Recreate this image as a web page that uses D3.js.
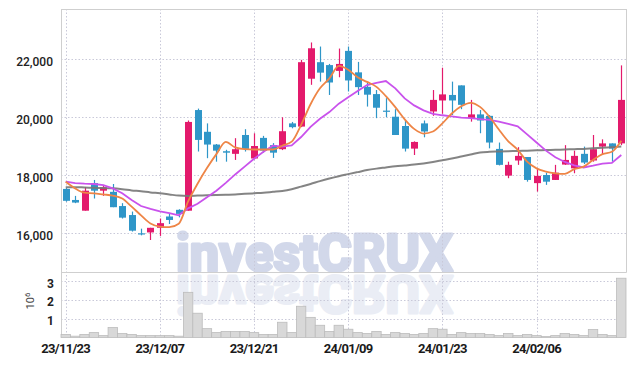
<!DOCTYPE html>
<html><head><meta charset="utf-8">
<script src="https://cdn.jsdelivr.net/npm/d3@7"></script>
<style>body{margin:0;background:#fff}svg{display:block}</style>
</head><body><svg id="c" width="634" height="366"></svg>
<script>
const dates=["23/11/23","23/11/24","23/11/27","23/11/28","23/11/29","23/11/30","23/12/01","23/12/04","23/12/05","23/12/06","23/12/07","23/12/08","23/12/11","23/12/12","23/12/13","23/12/14","23/12/15","23/12/18","23/12/19","23/12/20","23/12/21","23/12/22","23/12/26","23/12/27","23/12/28","24/01/02","24/01/03","24/01/04","24/01/05","24/01/08","24/01/09","24/01/10","24/01/11","24/01/12","24/01/15","24/01/16","24/01/17","24/01/18","24/01/19","24/01/22","24/01/23","24/01/24","24/01/25","24/01/26","24/01/29","24/01/30","24/01/31","24/02/01","24/02/02","24/02/05","24/02/06","24/02/07","24/02/08","24/02/13","24/02/14","24/02/15","24/02/16","24/02/19","24/02/20","24/02/21"];
const openV=[17530,17150,16780,17730,17470,17430,16940,16630,16000,16030,16190,16580,16810,16780,20250,19500,19060,18830,18740,19390,18580,19290,19040,18900,19790,19680,21330,21900,21800,21600,22290,21550,21050,20800,20230,20020,19700,18920,19790,20200,20580,20770,21100,19980,20100,20050,18910,17990,18510,18630,17730,18010,17840,18370,18240,18740,18510,18990,19100,19100];
const highV=[17560,17290,17590,17840,17660,17700,17040,16750,16160,16190,16510,16690,16830,19890,20300,19790,19080,18880,19280,19590,19450,19360,19110,20000,19840,21980,22580,22440,21840,22370,22440,21910,21200,20940,20660,20280,19890,19170,19890,20940,21710,21230,21100,20600,20250,20080,19130,18470,18970,18630,18240,18090,18360,19040,18850,18990,19390,19240,19100,21790];
const lowV=[17090,17040,16780,17200,17290,16900,16510,16060,15930,15770,15910,16320,16550,16780,18820,18590,18470,18470,18530,18820,18550,18780,18600,18870,19620,19660,21120,21230,20770,21380,20890,20770,20370,19970,20000,19390,18820,18700,19310,20050,20120,20080,20280,19850,19450,18930,18340,17900,18360,17780,17440,17670,17840,18360,18070,18390,18470,18700,18470,19040];
const closeV=[17120,17060,17470,17470,17590,16900,16540,16090,15980,16190,16350,16460,16670,19840,19220,19060,18850,18780,18900,18910,19010,18850,18780,19520,19660,21900,22380,21540,21200,21840,21270,21040,20780,20330,20210,19390,18920,19150,19510,20600,20790,20580,20430,20100,19890,19130,18360,18360,18670,17840,17980,17780,18090,18530,18670,18440,18900,19100,18920,20600];
const volumeV=[0.16,0.07,0.16,0.26,0.10,0.53,0.21,0.16,0.10,0.10,0.10,0.10,0.07,2.40,1.29,0.47,0.26,0.32,0.32,0.32,0.26,0.16,0.16,0.81,0.26,1.66,1.07,0.65,0.32,0.65,0.44,0.26,0.21,0.32,0.16,0.26,0.21,0.16,0.21,0.47,0.44,0.16,0.26,0.21,0.21,0.16,0.10,0.21,0.10,0.16,0.10,0.05,0.10,0.21,0.16,0.10,0.42,0.16,0.10,3.15];
const ma5V=[17780,17550,17400,17380,17340,17300,17200,16920,16620,16340,16230,16210,16330,17100,17710,18250,18730,19150,18960,18900,18890,18890,18890,19020,19160,19740,20450,21000,21340,21770,21640,21380,21220,21050,20730,20350,19930,19600,19440,19510,19790,20130,20380,20500,20360,20020,19580,19170,18880,18470,18240,18130,18070,18050,18210,18300,18530,18730,18810,19190];
const ma10V=[17780,17730,17710,17700,17660,17550,17380,17150,16940,16840,16760,16700,16620,16860,17020,17240,17470,17740,18030,18300,18570,18810,19020,18990,19030,19320,19670,19950,20180,20470,20690,20910,21110,21190,21250,21000,20650,20410,20240,20120,20070,20030,19990,19970,19940,19910,19850,19770,19690,19410,19130,18850,18620,18460,18340,18270,18330,18400,18430,18700];
const ma60V=[17590,17590,17580,17570,17560,17550,17520,17480,17450,17410,17380,17340,17300,17290,17300,17310,17320,17330,17340,17360,17380,17400,17430,17460,17520,17610,17700,17800,17890,17970,18040,18110,18180,18230,18270,18310,18340,18370,18410,18460,18520,18580,18650,18720,18790,18810,18820,18830,18840,18850,18860,18870,18880,18890,18900,18910,18930,18950,18970,18990];
const priceTicks=[16000,18000,20000,22000];
const volTicks=[1,2,3];
const dateTicks=["23/11/23","23/12/07","23/12/21","24/01/09","24/01/23","24/02/06"];

const L=61,R=626,T=9,MB=272,VB=337.5;
const UP="#e31a6c",DOWN="#2f96c8";
const svg=d3.select("#c");
const x=d3.scaleBand().domain(dates).range([L,R]).padding(0);
const cx=d=>x(d)+x.bandwidth()/2;
const y=d3.scaleLinear().domain([14666,23734]).range([MB,T]);
const yv=d3.scaleLinear().domain([0,3.48]).range([VB,MB]);

const defs=svg.append("defs");
defs.append("clipPath").attr("id","cm").append("rect").attr("x",L).attr("y",T).attr("width",R-L).attr("height",MB-T);
defs.append("clipPath").attr("id","cv").append("rect").attr("x",L).attr("y",MB+1).attr("width",R-L).attr("height",VB-MB);

// watermark (with mirrored reflection via <use>)
svg.append("g").attr("clip-path","url(#cm)")
  .append("text").attr("id","wm").attr("x",176).attr("y",270.5).attr("font-family","Roboto").attr("font-weight",700)
  .attr("font-size",52).attr("textLength",277).attr("lengthAdjust","spacingAndGlyphs")
  .attr("fill","#d2d8ea").attr("stroke","#d2d8ea").attr("stroke-width",3.2).attr("stroke-linejoin","round")
  .text("investCRUX");
svg.append("g").attr("clip-path","url(#cv)").append("g")
  .attr("transform","translate(0,546) scale(1,-1)").attr("opacity",0.45)
  .append("use").attr("href","#wm");

// grid
const grid=svg.append("g").attr("stroke","#c9c9d9").attr("stroke-dasharray","1.5,2").attr("stroke-width",1);
grid.selectAll("line.h").data(priceTicks).join("line").attr("x1",L).attr("x2",R)
  .attr("y1",d=>Math.round(y(d))+0.5).attr("y2",d=>Math.round(y(d))+0.5);
grid.selectAll("line.v").data(volTicks).join("line").attr("x1",L).attr("x2",R)
  .attr("y1",d=>Math.round(yv(d))+0.5).attr("y2",d=>Math.round(yv(d))+0.5);
grid.selectAll("line.d").data(dateTicks).join("line").attr("y1",T).attr("y2",VB)
  .attr("x1",d=>Math.round(cx(d))+0.5).attr("x2",d=>Math.round(cx(d))+0.5);

// borders
const bd=svg.append("g").attr("stroke","#cfcfcf").attr("stroke-width",1);
bd.append("line").attr("x1",L).attr("x2",R+0.5).attr("y1",T+0.5).attr("y2",T+0.5);
bd.append("line").attr("x1",L).attr("x2",R+0.5).attr("y1",MB+0.5).attr("y2",MB+0.5);
bd.append("line").attr("x1",R+0.5).attr("x2",R+0.5).attr("y1",T).attr("y2",MB+0.5);
bd.append("line").attr("x1",L+0.5).attr("x2",L+0.5).attr("y1",T).attr("y2",VB);

// volume
svg.append("g").selectAll("rect").data(dates).join("rect")
  .attr("x",d=>x(d)).attr("width",x.bandwidth())
  .attr("y",(d,i)=>yv(volumeV[i])).attr("height",(d,i)=>VB-yv(volumeV[i]))
  .attr("fill","#d8d8d8").attr("stroke","#bcbcbc").attr("stroke-width",0.8);

// candles
const cg=svg.append("g");
cg.selectAll("line").data(dates).join("line")
  .attr("x1",d=>Math.round(cx(d))+0.5).attr("x2",d=>Math.round(cx(d))+0.5)
  .attr("y1",(d,i)=>y(highV[i])).attr("y2",(d,i)=>y(lowV[i]))
  .attr("stroke",(d,i)=>closeV[i]>=openV[i]?UP:DOWN).attr("stroke-width",1.2);
const bw=7;
cg.selectAll("rect").data(dates).join("rect")
  .attr("x",d=>Math.round(cx(d))+0.5-bw/2).attr("width",bw)
  .attr("y",(d,i)=>y(Math.max(openV[i],closeV[i])))
  .attr("height",(d,i)=>Math.max(1.2,Math.abs(y(openV[i])-y(closeV[i]))))
  .attr("fill",(d,i)=>closeV[i]>=openV[i]?UP:DOWN);

// MA lines
const mk=(arr,color,w,curve,op)=>svg.append("path").datum(arr)
  .attr("d",d3.line().x((v,i)=>cx(dates[i])).y(v=>y(v)).curve(curve))
  .attr("fill","none").attr("stroke",color).attr("stroke-width",w).attr("opacity",op);
mk(ma60V,"#777777",2,d3.curveMonotoneX,0.9);
mk(ma10V,"#c952ec",1.8,d3.curveLinear,1);
mk(ma5V,"#ee8546",1.8,d3.curveMonotoneX,1);

// axes
const styleAx=(g)=>{g.select(".domain").remove();g.selectAll("text").attr("font-family","Roboto").attr("fill","#222");};
svg.append("g").attr("transform",`translate(${L},0)`)
  .call(d3.axisLeft(y).tickValues(priceTicks).tickFormat(d3.format(",")).tickSize(0).tickPadding(8))
  .call(styleAx).call(g=>g.selectAll("text").attr("font-size",12).attr("font-weight",500).attr("dy","0.5em"));
svg.append("g").attr("transform",`translate(${L},0)`)
  .call(d3.axisLeft(yv).tickValues(volTicks).tickFormat(d3.format("d")).tickSize(0).tickPadding(7))
  .call(styleAx).call(g=>g.selectAll("text").attr("font-size",12).attr("font-weight",700).attr("dy","0.5em"));
svg.append("g").attr("transform",`translate(0,${VB})`)
  .call(d3.axisBottom(x).tickValues(dateTicks).tickSize(0).tickPadding(6))
  .call(styleAx).call(g=>g.selectAll("text").attr("font-size",13).attr("font-weight",700).attr("letter-spacing","-0.7px").attr("fill","#1a1a1a"));

const ut=svg.append("text").attr("transform","translate(33.5,301) rotate(-90)").attr("text-anchor","middle")
  .attr("font-family","Roboto").attr("font-size",11).attr("fill","#444");
ut.append("tspan").text("10");
ut.append("tspan").attr("dy",-4).attr("font-size",8).text("6");
</script></body></html>
